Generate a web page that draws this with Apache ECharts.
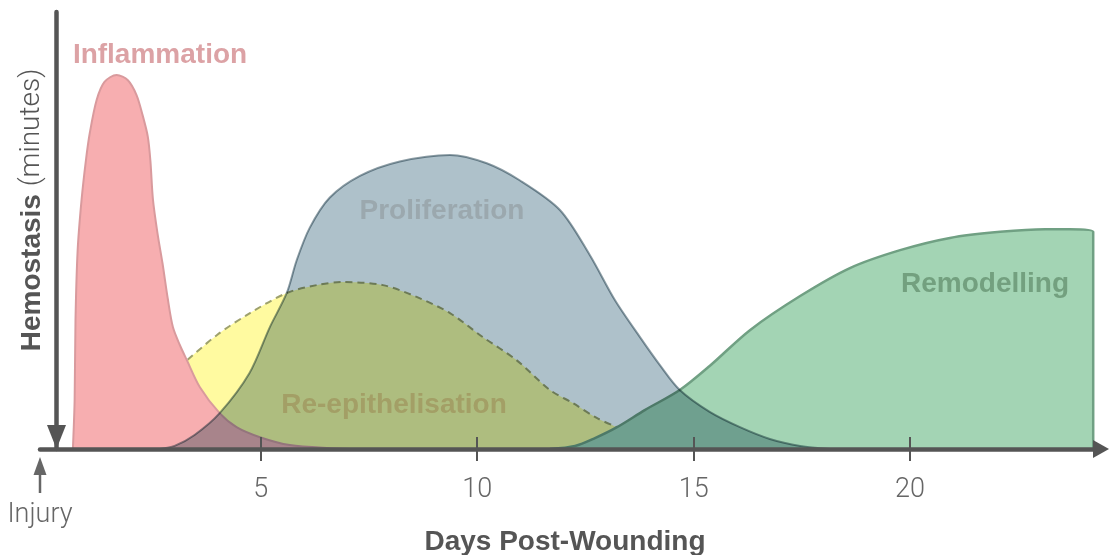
<!DOCTYPE html>
<html>
<head>
<meta charset="utf-8">
<script src="https://cdn.jsdelivr.net/npm/echarts@6/dist/echarts.min.js"></script>
<style>
html,body{margin:0;padding:0;background:#fff;}
#chart{width:1109px;height:555px;}
</style>
</head>
<body>
<div id="chart"></div>
<script>
// ---- data (days post-wounding vs relative intensity, 0-100) ----
var tickValues = [5, 10, 15, 20];

var inflammationDays   = [0.66, 0.70, 0.72, 0.77, 0.86, 0.96, 1.05, 1.21, 1.39, 1.67, 1.93, 2.13, 2.27, 2.39, 2.45, 2.51, 2.62, 2.73, 2.85, 2.97, 3.13, 3.29, 3.59, 4.05, 4.44, 4.98, 5.67, 6.59, 7.3];
var inflammationValues = [0,    11.2, 29.5, 45.5, 57,   66,   72.3, 79.9, 84,   85.6, 84.4, 81,   76.4, 71.5, 66,   57,   49,   42.5, 34.5, 27.9, 23.8, 20.4, 14.2, 8.2,  5.0,  2.7,  0.9,  0.2,  0];

var reepDays   = [3.31, 3.99, 4.75, 5.6,  6.29, 6.89, 7.82, 8.6,  9.37, 10.13, 10.9, 11.68, 12.21, 12.76, 13.23];
var reepValues = [20.4, 26.1, 31.1, 35.7, 37.5, 38.2, 37.5, 34.8, 31.1, 25.6,  20.4, 13.5,  10.5,  7.1,   5.0];

var prolifDays   = [2.67, 3.01, 3.47, 4.05, 4.74, 5.21, 5.6,  5.83, 6.13, 6.59, 7.29, 8.21, 9.37, 10.22, 10.98, 11.91, 12.6, 13.18, 13.76, 14.22, 14.68, 15.37, 16.07, 16.76, 17.46, 18.15];
var prolifValues = [0,    0.7,  3.2,  8.2,  17.4, 27.9, 35.7, 43.2, 50.6, 57.5, 62.5, 65.8, 67.3, 65.4,  61.5,  54.7,  44.4, 34.1,  25.6,  19.2,  13.5,  8.5,   5.0,   2.3,   0.7,   0];

var remodDays   = [11.68, 12.26, 12.72, 13.23, 13.87, 14.68, 15.37, 16.3, 17.46, 18.61, 19.77, 20.92, 22.08, 23.12, 23.69, 24.23, 24.23];
var remodValues = [0,     0.7,   2.5,   5.0,   8.9,   13.5,  19,    27.2, 35,    41.4,  45.5,  48.3,  49.7,  50.3,  50.3,  49.7,  0];

var seriesNames = ['Inflammation', 'Proliferation', 'Re-epithelisation', 'Remodelling'];

function zip(xs, ys) { return xs.map(function (x, i) { return [x, ys[i]]; }); }

var LIGHT = 'Roboto, "Liberation Sans", sans-serif';
var BOLD = '"Liberation Sans", Arial, sans-serif';
var AXIS = '#555555';
var SMOOTH = 0.3;

var chart = echarts.init(document.getElementById('chart'), null, {renderer: 'canvas'});

var option = {
  animation: false,
  backgroundColor: '#ffffff',
  grid: {left: 40, right: 8, top: 12, bottom: 106, containLabel: false},
  xAxis: [{
    type: 'value', min: -0.1, max: 24.41, z: 10,
    splitLine: {show: false},
    axisLine: {show: true, onZero: true, symbol: ['none', 'triangle'], symbolSize: [18, 16],
      lineStyle: {color: AXIS, width: 4.5}},
    axisTick: {show: true, inside: false, length: 12, customValues: tickValues,
      lineStyle: {color: AXIS, width: 2}},
    axisLabel: {show: true, customValues: tickValues, margin: 28, color: '#666',
      fontFamily: LIGHT, fontWeight: 300, fontSize: 27}
  }, {
    type: 'value', min: -0.1, max: 24.41, z: 10, position: 'bottom',
    splitLine: {show: false},
    axisLine: {show: false},
    axisTick: {show: true, inside: true, length: 12, customValues: tickValues,
      lineStyle: {color: AXIS, width: 2}},
    axisLabel: {show: false}
  }],
  yAxis: {
    type: 'value', min: 0, max: 100, offset: -16.5, z: 10,
    splitLine: {show: false},
    axisLine: {show: true, onZero: false, symbol: ['triangle', 'none'], symbolSize: [19, 24], symbolOffset: [12, 0],
      lineStyle: {color: AXIS, width: 4.5}},
    axisTick: {show: false},
    axisLabel: {show: false}
  },
  series: [{
    name: seriesNames[2], type: 'line', z: 2, data: zip(reepDays, reepValues),
    smooth: SMOOTH, showSymbol: false,
    lineStyle: {color: '#9ea16c', width: 2, type: [7, 5]},
    areaStyle: {color: '#fffaa0', opacity: 1}
  }, {
    name: seriesNames[0], type: 'line', z: 3, data: zip(inflammationDays, inflammationValues),
    smooth: SMOOTH, showSymbol: false,
    lineStyle: {color: '#d99a9d', width: 2},
    areaStyle: {color: '#f7aeb0', opacity: 1}
  }, {
    name: seriesNames[3], type: 'line', z: 4, data: zip(remodDays, remodValues),
    smooth: SMOOTH, showSymbol: false,
    lineStyle: {color: '#70a083', width: 2.5},
    areaStyle: {color: '#a3d4b4', opacity: 1}
  }, {
    name: seriesNames[1], type: 'line', z: 5, data: zip(prolifDays, prolifValues),
    smooth: SMOOTH, showSymbol: false, blendMode: 'multiply',
    lineStyle: {color: '#8c9da5', width: 2},
    areaStyle: {color: '#aec1ca', opacity: 1}
  }],
  graphic: [
    {type: 'text', z: 100, x: 160, y: 55, style: {text: seriesNames[0], fill: '#dca2a5', font: 'bold 28px ' + BOLD, align: 'center', verticalAlign: 'middle'}},
    {type: 'text', z: 100, x: 442, y: 211, style: {text: seriesNames[1], fill: '#9ba8ae', font: 'bold 28px ' + BOLD, align: 'center', verticalAlign: 'middle'}},
    {type: 'text', z: 100, x: 394, y: 405, style: {text: seriesNames[2], fill: '#a39f66', font: 'bold 28px ' + BOLD, align: 'center', verticalAlign: 'middle'}},
    {type: 'text', z: 100, x: 985, y: 284, style: {text: seriesNames[3], fill: '#73a07f', font: 'bold 28px ' + BOLD, align: 'center', verticalAlign: 'middle'}},
    {type: 'text', z: 100, x: 565, y: 542, style: {text: 'Days Post-Wounding', fill: '#555', font: 'bold 28px ' + BOLD, align: 'center', verticalAlign: 'middle'}},
    {type: 'text', z: 100, x: 32, y: 210, rotation: Math.PI / 2,
      style: {text: '{b|Hemostasis }{l|(minutes)}', align: 'center', verticalAlign: 'middle',
        rich: {b: {fontFamily: BOLD, fontWeight: 'bold', fontSize: 28, fill: '#555', color: '#555'},
               l: {fontFamily: LIGHT, fontWeight: 300, fontSize: 28, fill: '#555', color: '#555'}}}},
    {type: 'text', z: 100, x: 40, y: 515, style: {text: 'Injury', fill: '#666', font: '300 27px ' + LIGHT, align: 'center', verticalAlign: 'middle'}},
    {type: 'line', z: 100, shape: {x1: 40, y1: 468, x2: 40, y2: 493}, style: {stroke: '#666', lineWidth: 2.5}},
    {type: 'polygon', z: 100, shape: {points: [[40, 457], [46.5, 475], [33.5, 475]]}, style: {fill: '#666'}}
  ]
};
chart.setOption(option);
</script>
</body>
</html>
